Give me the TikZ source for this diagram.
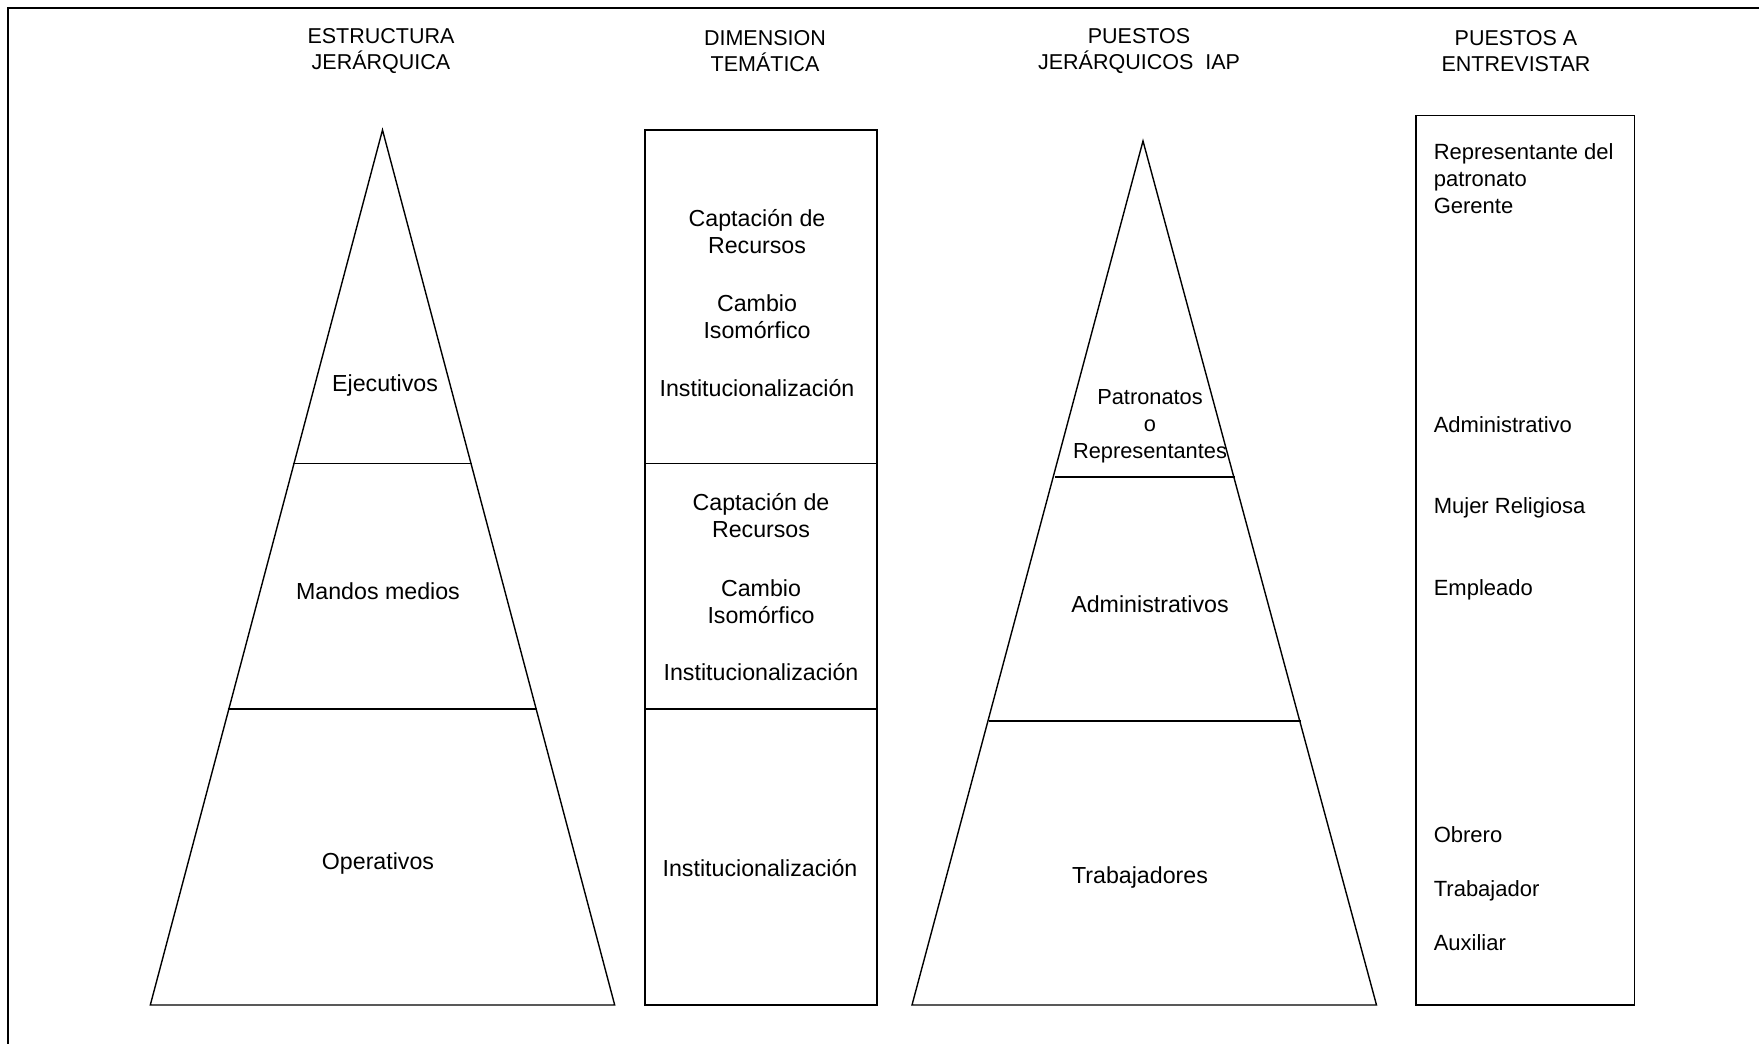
\documentclass[tikz,border=0pt]{standalone}
\usepackage{fontspec}
\setmainfont{Liberation Sans}
\begin{document}
\begin{tikzpicture}[x=1pt,y=-1pt,
  shape line/.style={line width=1.4pt, line join=miter},
  frame line/.style={line width=2.6pt},
  title/.style={inner sep=0pt, align=center, font=\fontsize{21.5}{26}\selectfont},
  label/.style={inner sep=0pt, align=center, font=\fontsize{23.2}{27}\selectfont},
  small label/.style={inner sep=0pt, align=center, font=\fontsize{21.8}{27}\selectfont},
  list item/.style={inner sep=0pt, anchor=west, align=left, font=\fontsize{22}{27}\selectfont}]

\useasboundingbox (0,0) rectangle (1759,1044);
\fill[white] (0,0) rectangle (1759,1044);

% outer frame (only the top and left edges fall inside the page)
\draw[frame line] (8,1060) -- (8,8) -- (1775,8);

% column titles
\node[title] (t1) at (381,51.5) {ESTRUCTURA\\JERÁRQUICA};
\node[title] (t2) at (765,51.5) {DIMENSION\\TEMÁTICA};
\node[title] (t3) at (1139,51.5) {PUESTOS\\JERÁRQUICOS\ \ IAP};
\node[title] (t4) at (1516,51.5) {PUESTOS A\\ENTREVISTAR};

% hierarchical structure pyramid
\draw[shape line] (382.5,130) -- (614.7,1005) -- (150.3,1005) -- cycle;
\draw[shape line] (292.5,463.3) -- (471.5,463.3);
\draw[shape line] (227.5,709) -- (536.5,709);
\node[label] (ejec) at (385,385) {Ejecutivos};
\node[label] (mand) at (378,591) {Mandos medios};
\node[label] (oper) at (378,863) {Operativos};

% thematic dimension column
\draw[shape line] (645,130) rectangle (877,1005);
\draw[shape line] (645,463.3) -- (877,463.3);
\draw[shape line] (645,709) -- (877,709);
\node[label] (d1a) at (757,231.5) {Captación de\\Recursos};
\node[label] (d1b) at (757,317) {Cambio\\Isomórfico};
\node[label] (d1c) at (757,388) {Institucionalización};
\node[label] (d2a) at (761,515.5) {Captación de\\Recursos};
\node[label] (d2b) at (761,602) {Cambio\\Isomórfico};
\node[label] (d2c) at (761,672) {Institucionalización};
\node[label] (d3a) at (760,868) {Institucionalización};

% IAP positions pyramid
\draw[shape line] (1143,141) -- (1376.5,1005) -- (912,1005) -- cycle;
\draw[shape line] (1054.5,477) -- (1234.5,477);
\draw[shape line] (988.5,721) -- (1300.5,721);
\node[small label] (patr) at (1150,426) {Patronatos\\o\\Representantes};
\node[label] (admi) at (1150,604) {Administrativos};
\node[label] (trab) at (1140,877) {Trabajadores};

% positions to interview
\draw[shape line] (1416,115.5) rectangle (1634.5,1005);
\node[list item] (r1) at (1433.6,179) {Representante del\\patronato\\Gerente};
\node[list item] (r2) at (1433.6,425) {Administrativo};
\node[list item] (r3) at (1433.6,508) {Mujer Religiosa};
\node[list item] (r4) at (1433.6,590) {Empleado};
\node[list item] (r5) at (1433.6,835) {Obrero};
\node[list item] (r6) at (1433.6,891) {Trabajador};
\node[list item] (r7) at (1433.6,943) {Auxiliar};
\end{tikzpicture}
\end{document}
